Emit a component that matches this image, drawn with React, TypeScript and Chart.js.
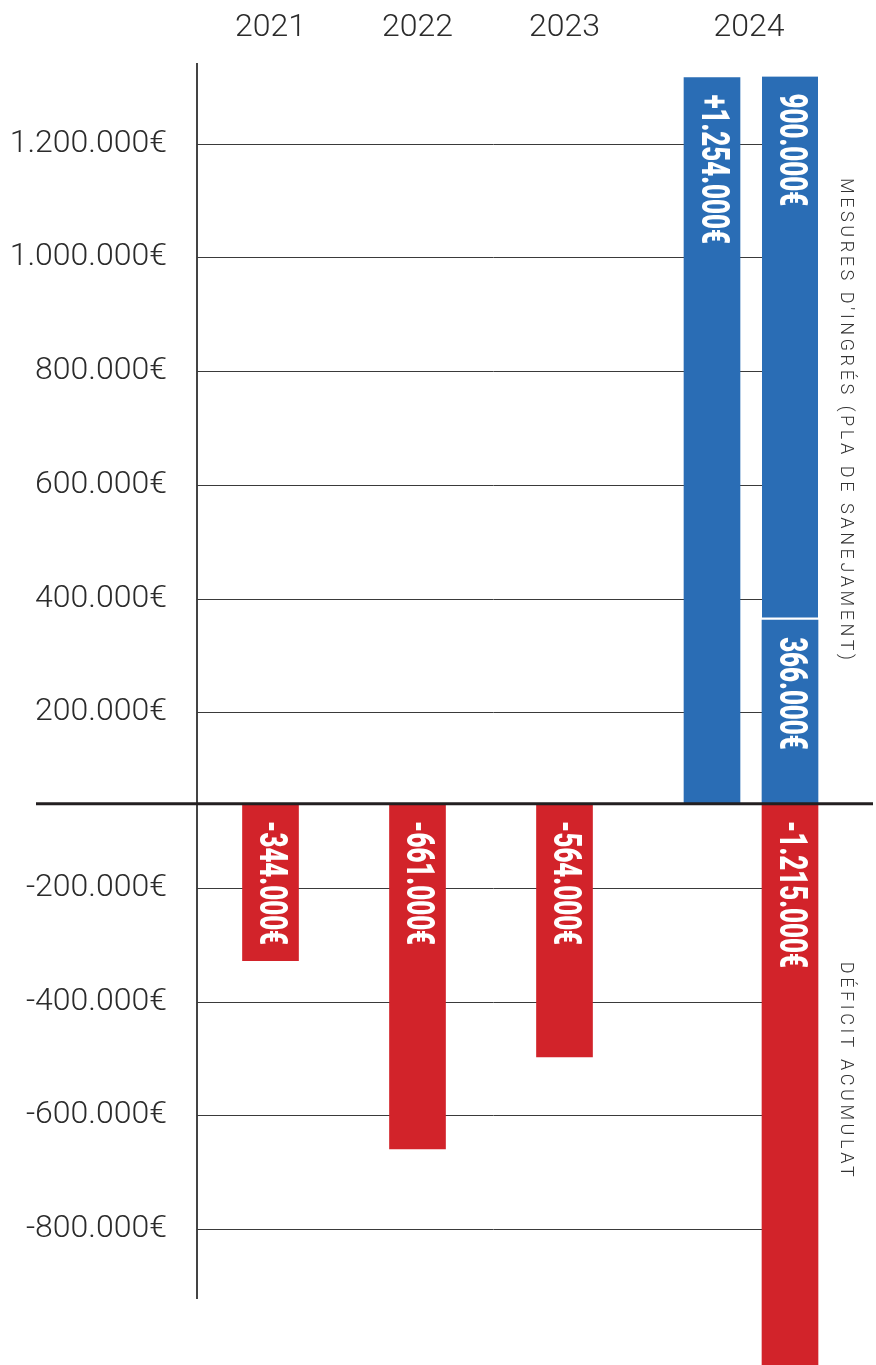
import React, { useEffect, useRef } from 'react';
import { Chart, registerables } from 'chart.js';

Chart.register(...registerables);

// ---- data -------------------------------------------------------------
const yearsMain = ['2021', '2022', '2023'];
const columns2024 = ['2024', '2024']; // 2024 is drawn as two columns

// bar lengths as drawn in the picture (€)
const deficitBars = [-328000, -659000, -497000];
const incomeTotal2024 = [1316000, null];
const planBase2024 = [null, 362000];
const planTop2024 = [null, 956000];
const deficit2024 = [null, -1215000];

// amounts printed inside the bars (€)
const deficitLabels = [-344000, -661000, -564000];
const incomeTotalLabel2024 = [1254000, null];
const planBaseLabel2024 = [null, 366000];
const planTopLabel2024 = [null, 900000];
const deficitLabel2024 = [null, -1215000];

// axis ticks (€)
const posTicks = [200000, 400000, 600000, 800000, 1000000, 1200000];
const negTicks = [-200000, -400000, -600000, -800000];

const incomeTitle = "MESURES D'INGRÉS (PLA DE SANEJAMENT)";
const deficitTitle = 'DÉFICIT ACUMULAT';

// ---- style ------------------------------------------------------------
const RED = '#d2232a';
const BLUE = '#2a6db5';
const INK = '#2b2b2b';
const LIGHT_FONT = "Roboto, 'Noto Sans', sans-serif";
const LABEL_FONT = "Roboto, 'DejaVu Sans Condensed', sans-serif";

const fmt = (v: number, plus = false) => {
  const s = Math.abs(Math.round(v)).toString().replace(/\B(?=(\d{3})+(?!\d))/g, '.');
  return (v < 0 ? '-' : plus ? '+' : '') + s + '€';
};
const labelsOf = (arr: (number | null)[], plus = false) =>
  arr.map((v) => (v === null ? '' : fmt(v, plus)));

const splitClip = {
  id: 'splitClip',
  beforeDatasetDraw(chart: any, args: any) {
    const meta = args.meta;
    const ys = chart.scales[meta.yAxisID];
    const ctx = chart.ctx;
    ctx.save();
    ctx.beginPath();
    if (meta.yAxisID === 'yPos') ctx.rect(0, 0, chart.width, ys.bottom);
    else ctx.rect(0, ys.top, chart.width, chart.height - ys.top);
    ctx.clip();
  },
  afterDatasetDraw(chart: any) {
    chart.ctx.restore();
  },
};

const gridLines = {
  id: 'gridLines',
  beforeDatasetsDraw(chart: any) {
    const ctx = chart.ctx;
    const left = chart.chartArea.left;
    let right = left;
    chart.data.datasets.forEach((_: any, i: number) => {
      chart.getDatasetMeta(i).data.forEach((el: any) => {
        if (Number.isFinite(el.x)) right = Math.max(right, el.x);
      });
    });
    ctx.save();
    ctx.strokeStyle = '#3a3a3a';
    ctx.lineWidth = 1;
    ['yPos', 'yNeg'].forEach((id) => {
      const s = chart.scales[id];
      s.ticks.forEach((t: any) => {
        const y = Math.round(s.getPixelForValue(t.value)) + 0.5;
        ctx.beginPath();
        ctx.moveTo(left, y);
        ctx.lineTo(right, y);
        ctx.stroke();
      });
    });
    ctx.restore();
  },
};

const overlay = {
  id: 'overlay',
  afterDatasetsDraw(chart: any) {
    const ctx = chart.ctx;
    const { right } = chart.chartArea;
    const yPos = chart.scales.yPos;
    const yNeg = chart.scales.yNeg;

    // values written inside the bars, rotated, condensed
    chart.data.datasets.forEach((ds: any, i: number) => {
      const meta = chart.getDatasetMeta(i);
      const ys = chart.scales[meta.yAxisID];
      meta.data.forEach((el: any, j: number) => {
        const text = ds.barLabels && ds.barLabels[j];
        if (!text) return;
        let top = Math.min(el.y, el.base);
        if (meta.yAxisID === 'yNeg') top = Math.max(top, ys.top);
        ctx.save();
        ctx.translate(el.x, top + 17);
        ctx.rotate(Math.PI / 2);
        ctx.scale(0.68, 1);
        ctx.font = `900 38px ${LABEL_FONT}`;
        ctx.fillStyle = '#ffffff';
        ctx.textAlign = 'left';
        ctx.textBaseline = 'middle';
        ctx.fillText(text, 0, 1);
        ctx.restore();
      });
    });

    // heavy zero line
    ctx.save();
    ctx.strokeStyle = '#231f20';
    ctx.lineWidth = 3;
    ctx.beginPath();
    ctx.moveTo(36, yPos.bottom);
    ctx.lineTo(right + 44, yPos.bottom);
    ctx.stroke();
    ctx.restore();

    // vertical side titles
    const side = (text: string, x: number, y: number) => {
      ctx.save();
      ctx.translate(x, y);
      ctx.rotate(Math.PI / 2);
      ctx.font = `300 18px ${LIGHT_FONT}`;
      (ctx as any).letterSpacing = '3.6px';
      ctx.fillStyle = '#333333';
      ctx.textAlign = 'left';
      ctx.textBaseline = 'middle';
      ctx.fillText(text, 0, 0);
      ctx.restore();
    };
    side(incomeTitle, right + 16, yPos.top + 114);
    side(deficitTitle, right + 16, yNeg.top + 158);
  },
};

function buildConfig(): any {
  const tickFont = { family: LIGHT_FONT, size: 32, weight: '300' };
  const xAxis = (labels: string[], weight: number, stackWeight: number, extra: any = {}) => ({
    type: 'category',
    position: 'top',
    labels,
    stack: 'x',
    stackWeight,
    weight,
    offset: true,
    grid: { display: false, drawTicks: false },
    border: { display: false },
    afterFit: (s: any) => {
      s.height = 64;
      s.paddingLeft = 0;
      s.paddingRight = 0;
    },
    ...extra,
    ticks: {
      font: tickFont,
      color: INK,
      padding: 17,
      maxRotation: 0,
      autoSkip: false,
      ...(extra.ticks || {}),
    },
  });
  const yAxis = (ticks: number[], weight: number, stackWeight: number, min: number, max: number) => ({
    type: 'linear',
    position: 'left',
    stack: 'y',
    stackWeight,
    weight,
    min,
    max,
    beginAtZero: false,
    grid: { drawOnChartArea: false, drawTicks: false },
    border: { display: true, color: '#444444', width: 2 },
    ticks: {
      font: tickFont,
      color: INK,
      padding: 30,
      callback: (v: any) => fmt(Number(v)),
    },
    afterBuildTicks: (s: any) => {
      s.ticks = ticks.map((value) => ({ value }));
    },
    afterFit: (s: any) => {
      s.width = 197;
      s.paddingTop = 0;
      s.paddingBottom = 0;
    },
  });

  const bar = (extra: any) => ({
    borderWidth: 0,
    clip: false,
    grouped: false,
    barThickness: 56,
    ...extra,
  });

  return {
    type: 'bar',
    data: {
      datasets: [
        bar({
          label: 'Dèficit acumulat',
          data: deficitBars,
          barLabels: labelsOf(deficitLabels),
          xAxisID: 'xMain',
          yAxisID: 'yNeg',
          backgroundColor: RED,
        }),
        bar({
          label: "Mesures d'ingrés (total)",
          data: incomeTotal2024,
          barLabels: labelsOf(incomeTotalLabel2024, true),
          xAxisID: 'x24',
          yAxisID: 'yPos',
          stack: 'A',
          backgroundColor: BLUE,
        }),
        bar({
          label: "Mesures d'ingrés (366.000€)",
          data: planBase2024,
          barLabels: labelsOf(planBaseLabel2024),
          xAxisID: 'x24',
          yAxisID: 'yPos',
          stack: 'B',
          backgroundColor: BLUE,
        }),
        bar({
          label: "Mesures d'ingrés (900.000€)",
          data: planTop2024,
          barLabels: labelsOf(planTopLabel2024),
          xAxisID: 'x24',
          yAxisID: 'yPos',
          stack: 'B',
          backgroundColor: BLUE,
          borderColor: '#ffffff',
          borderWidth: { top: 0, right: 0, bottom: 3, left: 0 },
          borderSkipped: false,
        }),
        bar({
          label: 'Dèficit acumulat 2024',
          data: deficit2024,
          barLabels: labelsOf(deficitLabel2024),
          xAxisID: 'x24',
          yAxisID: 'yNeg',
          backgroundColor: RED,
        }),
      ],
    },
    options: {
      responsive: true,
      maintainAspectRatio: false,
      animation: false,
      layout: { padding: { left: 0, right: 47, top: 0, bottom: 67 } },
      plugins: { legend: { display: false }, tooltip: { enabled: false } },
      scales: {
        xMain: xAxis(yearsMain, 3, 441),
        xGap: xAxis([''], 2, 35, { display: false }),
        x24: xAxis(columns2024, 1, 156, {
          ticks: {
            labelOffset: 37,
            callback: (_v: any, i: number) => (i === 0 ? columns2024[0] : ''),
          },
        }),
        yPos: yAxis(posTicks, 2, 739.5, 39000, 1340000),
        yNeg: yAxis(negTicks, 1, 494, -921000, -52000),
      },
    },
    plugins: [splitClip, gridLines, overlay],
  };
}

export default function App() {
  const ref = useRef<HTMLCanvasElement>(null);
  useEffect(() => {
    document.body.style.margin = '0';
    document.body.style.overflow = 'hidden';
    const chart = new Chart(ref.current as HTMLCanvasElement, buildConfig());
    return () => chart.destroy();
  }, []);
  return (
    <div style={{ position: 'relative', width: 876, height: 1365, background: '#ffffff' }}>
      <canvas ref={ref} />
    </div>
  );
}
